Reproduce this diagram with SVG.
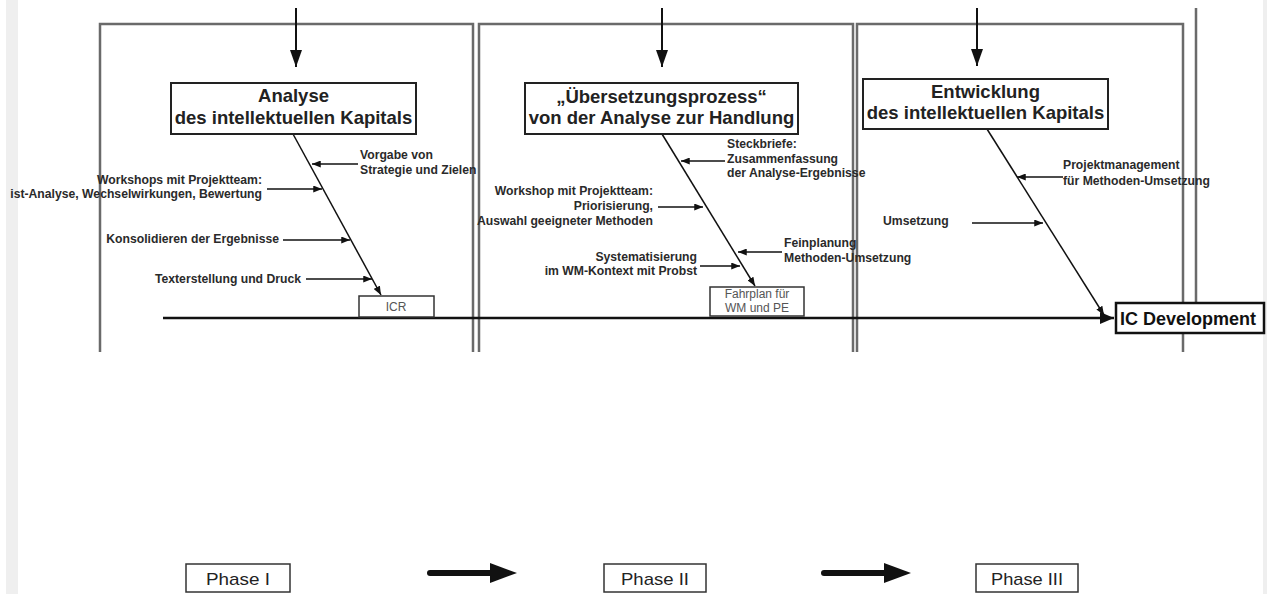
<svg xmlns="http://www.w3.org/2000/svg" width="1267" height="594" viewBox="0 0 1267 594">
<defs>
<style>
.panel{stroke:#6a6a6a;stroke-width:2.5;fill:none}
.title{fill:#fff;stroke:#222;stroke-width:2}
.tt{font-family:"Liberation Sans",Arial,sans-serif;font-weight:bold;font-size:18.5px;fill:#222;text-anchor:middle}
.lb{font-family:"Liberation Sans",Arial,sans-serif;font-weight:bold;font-size:12.2px;fill:#2a2a2a}
.rt{text-anchor:end}
.sm{font-family:"Liberation Sans",Arial,sans-serif;font-size:12px;fill:#555;text-anchor:middle}
.br{stroke:#111;stroke-width:1.5;fill:none;marker-end:url(#a)}
.sp{stroke:#111;stroke-width:1.5;fill:none;marker-end:url(#a)}
.top{stroke:#111;stroke-width:2;fill:none;marker-end:url(#big)}
.ph{fill:#fff;stroke:#333;stroke-width:1.5}
.pt{font-family:"Liberation Sans",Arial,sans-serif;font-size:17px;fill:#222;text-anchor:middle}
</style>
<marker id="a" viewBox="0 0 10 8" refX="10" refY="4" markerWidth="9" markerHeight="7" markerUnits="userSpaceOnUse" orient="auto"><path d="M0,0 L10,4 L0,8 z" fill="#111"/></marker>
<marker id="big" viewBox="0 0 17 12" refX="17" refY="6" markerWidth="17" markerHeight="12" markerUnits="userSpaceOnUse" orient="auto"><path d="M0,0 L17,6 L0,12 z" fill="#111"/></marker>
<marker id="main" viewBox="0 0 14 12" refX="14" refY="6" markerWidth="14" markerHeight="12" markerUnits="userSpaceOnUse" orient="auto"><path d="M0,0 L14,6 L0,12 z" fill="#111"/></marker>
</defs>
<rect x="0" y="0" width="1267" height="594" fill="#fff"/>
<rect x="6" y="0" width="12" height="594" fill="#efefef"/>
<rect x="1263" y="0" width="4" height="594" fill="#efefef"/>

<g id="panels">
<path class="panel" d="M100,352 V24 H473 V352"/>
<path class="panel" d="M479,352 V24 H853 V352"/>
<path class="panel" d="M857,352 V24 H1183 V352"/>
<line class="panel" x1="1196" y1="8" x2="1196" y2="304"/>
</g>

<g id="connectors">
<line class="top" x1="296" y1="8" x2="296" y2="67"/>
<line class="top" x1="662" y1="8" x2="662" y2="67"/>
<line class="top" x1="977" y1="8" x2="977" y2="66"/>
<line class="sp" x1="293" y1="134" x2="381" y2="295"/>
<line class="sp" x1="662" y1="134" x2="755" y2="286"/>
<line class="sp" x1="987" y1="129" x2="1104" y2="315"/>
<line class="br" x1="358" y1="164" x2="312" y2="164"/>
<line class="br" x1="267" y1="189" x2="322" y2="189"/>
<line class="br" x1="283" y1="240" x2="350" y2="240"/>
<line class="br" x1="306" y1="279" x2="372" y2="279"/>
<line class="br" x1="725" y1="161" x2="681" y2="161"/>
<line class="br" x1="658" y1="207" x2="703" y2="207"/>
<line class="br" x1="782" y1="252" x2="738" y2="252"/>
<line class="br" x1="700" y1="266" x2="740" y2="266"/>
<line class="br" x1="1063" y1="177" x2="1017" y2="177"/>
<line class="br" x1="972" y1="223" x2="1043" y2="223"/>
<line x1="163" y1="318" x2="1114" y2="318" stroke="#111" stroke-width="2.5" marker-end="url(#main)"/>
<path d="M430,573 H492" stroke="#111" stroke-width="6" stroke-linecap="round"/>
<path d="M490,563 L517,573 L490,583 z" fill="#111"/>
<path d="M824,573 H886" stroke="#111" stroke-width="6" stroke-linecap="round"/>
<path d="M884,563 L911,573 L884,583 z" fill="#111"/>
</g>

<g id="title1">
<rect class="title" x="171" y="83" width="245" height="51"/>
<text class="tt" x="293.5" y="102">Analyse</text>
<text class="tt" x="293.5" y="124">des intellektuellen Kapitals</text>
</g>
<g id="title2">
<rect class="title" x="525" y="83" width="273" height="51"/>
<text class="tt" x="661.5" y="103">„Übersetzungsprozess“</text>
<text class="tt" x="661.5" y="124">von der Analyse zur Handlung</text>
</g>
<g id="title3">
<rect class="title" x="863" y="79" width="245" height="50"/>
<text class="tt" x="985.5" y="98">Entwicklung</text>
<text class="tt" x="985.5" y="119">des intellektuellen Kapitals</text>
</g>

<g id="labels1">
<text class="lb" x="360" y="159">Vorgabe von</text>
<text class="lb" x="360" y="174">Strategie und Zielen</text>
<text class="lb rt" x="262" y="184">Workshops mit Projektteam:</text>
<text class="lb rt" x="262" y="198">ist-Analyse, Wechselwirkungen, Bewertung</text>
<text class="lb rt" x="279" y="243">Konsolidieren der Ergebnisse</text>
<text class="lb rt" x="301" y="283">Texterstellung und Druck</text>
</g>
<g id="icr">
<rect x="359" y="296" width="75" height="21" fill="#fff" stroke="#333" stroke-width="1.5"/>
<text class="sm" x="396" y="311">ICR</text>
</g>

<g id="labels2">
<text class="lb" x="727" y="148">Steckbriefe:</text>
<text class="lb" x="727" y="163">Zusammenfassung</text>
<text class="lb" x="727" y="177">der Analyse-Ergebnisse</text>
<text class="lb rt" x="653" y="195">Workshop mit Projektteam:</text>
<text class="lb rt" x="653" y="210">Priorisierung,</text>
<text class="lb rt" x="653" y="225">Auswahl geeigneter Methoden</text>
<text class="lb" x="784" y="247">Feinplanung</text>
<text class="lb" x="784" y="262">Methoden-Umsetzung</text>
<text class="lb rt" x="697" y="261">Systematisierung</text>
<text class="lb rt" x="697" y="275">im WM-Kontext mit Probst</text>
</g>
<g id="fahrplan">
<rect x="710" y="287" width="94" height="29" fill="#fff" stroke="#333" stroke-width="1.5"/>
<text class="sm" x="757" y="298">Fahrplan für</text>
<text class="sm" x="757" y="312">WM und PE</text>
</g>

<g id="labels3">
<text class="lb" x="1063" y="169">Projektmanagement</text>
<text class="lb" x="1063" y="185">für Methoden-Umsetzung</text>
<text class="lb" x="883" y="225">Umsetzung</text>
</g>

<g id="icdev">
<rect x="1116" y="303" width="148" height="30" fill="#fff" stroke="#111" stroke-width="2.5"/>
<text x="1120" y="325" font-family="Liberation Sans,Arial,sans-serif" font-weight="bold" font-size="18px" fill="#111">IC Development</text>
</g>

<g id="phase1">
<rect class="ph" x="186" y="564" width="104" height="28"/>
<text class="pt" x="238" y="585" textLength="64" lengthAdjust="spacingAndGlyphs">Phase I</text>
</g>
<g id="phase2">
<rect class="ph" x="604" y="564" width="102" height="28"/>
<text class="pt" x="655" y="585" textLength="68" lengthAdjust="spacingAndGlyphs">Phase II</text>
</g>
<g id="phase3">
<rect class="ph" x="976" y="564" width="102" height="28"/>
<text class="pt" x="1027" y="585" textLength="72" lengthAdjust="spacingAndGlyphs">Phase III</text>
</g>
</svg>
